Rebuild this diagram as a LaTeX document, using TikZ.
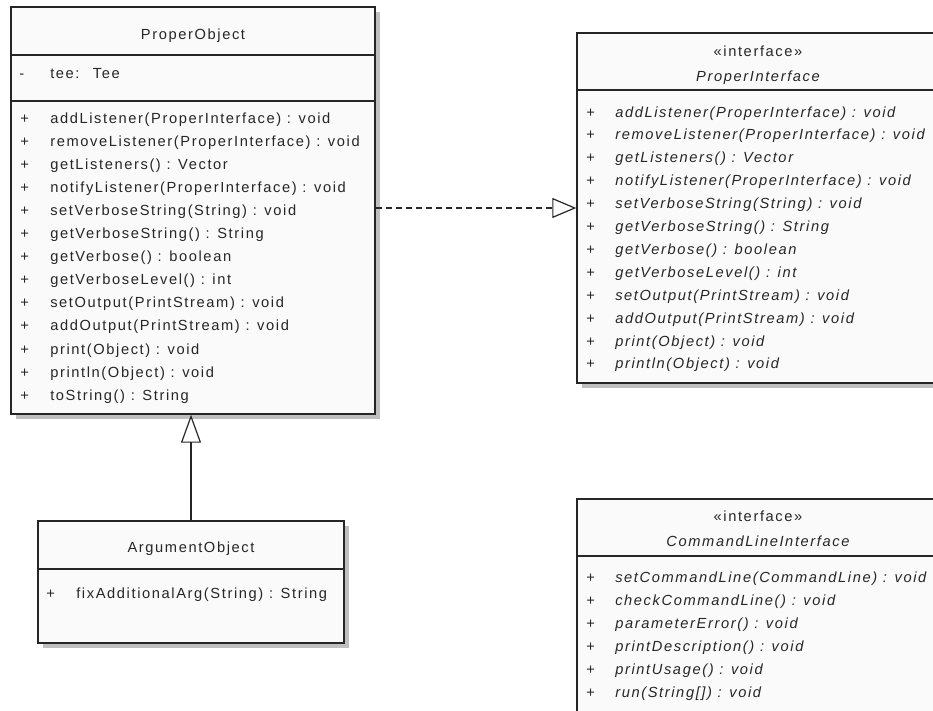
\documentclass[tikz,border=0pt]{standalone}
\usepackage{fontspec}
\setmainfont[LetterSpace=11]{Liberation Sans}
\usepackage{tikz}
\usetikzlibrary{fit,shadows,arrows.meta}
\tikzstyle{classbox} = [draw=black!85, line width=1.1pt, fill=black!2, inner sep=0pt, drop shadow={shadow xshift=3.5pt, shadow yshift=-3.5pt, fill=black!25, opacity=1}]
\tikzstyle{divider} = [draw=black!85, line width=0.9pt]
\tikzstyle{txt} = [inner sep=0pt, text=black!85, font={\fontsize{11}{13}\selectfont}]
\tikzstyle{member} = [txt, anchor=base west]
\tikzstyle{imember} = [member, font={\fontsize{11}{13}\selectfont\itshape}]
\tikzstyle{classname} = [txt, anchor=base]
\tikzstyle{inherit} = [draw=black!85, line width=0.9pt, -{Triangle[open, length=21pt, width=15pt]}]
\tikzstyle{realize} = [draw=black!85, line width=0.9pt, dash pattern=on 4.5pt off 3pt, -{Triangle[open, length=18pt, width=15pt]}]

\begin{document}
\begin{tikzpicture}[x=0.75pt, y=-0.75pt]
        \fill[white, use as bounding box] (0,0) rectangle (933,711);
        \clip (0,0) rectangle (933,711);
        % ProperObject
        \coordinate (po1) at (11,7);
        \coordinate (po2) at (375,414);
        \node[classbox, fit=(po1)(po2)] (properobject) {};
        \draw[divider] (11,55) -- (375,55);
        \draw[divider] (11,101) -- (375,101);
        \node[classname] (po-name) at (193,39) {ProperObject};
        \node[member] (po-vis) at (19,78) {-};
        \node[member] (po-tee) at (50,78) {tee: \ Tee};
        \foreach \m [count=\i from 0] in {addListener(ProperInterface) : void, removeListener(ProperInterface) : void, getListeners() : Vector, notifyListener(ProperInterface) : void, setVerboseString(String) : void, getVerboseString() : String, getVerbose() : boolean, getVerboseLevel() : int, setOutput(PrintStream) : void, addOutput(PrintStream) : void, print(Object) : void, println(Object) : void, toString() : String}
        {
          \node[member] (po-plus\i) at (20,123+23.1*\i) {+};
          \node[member] (po-op\i) at (50,123+23.1*\i) {\m};
        }
        % ProperInterface
        \coordinate (pi1) at (577,33);
        \coordinate (pi2) at (939,383);
        \node[classbox, fit=(pi1)(pi2)] (properinterface) {};
        \draw[divider] (577,90) -- (939,90);
        \node[classname] (pi-stereo) at (758,56) {«interface»};
        \node[classname, font={\fontsize{11}{13}\selectfont\itshape}] (pi-name) at (758,81) {ProperInterface};
        \foreach \m [count=\i from 0] in {addListener(ProperInterface) : void, removeListener(ProperInterface) : void, getListeners() : Vector, notifyListener(ProperInterface) : void, setVerboseString(String) : void, getVerboseString() : String, getVerbose() : boolean, getVerboseLevel() : int, setOutput(PrintStream) : void, addOutput(PrintStream) : void, print(Object) : void, println(Object) : void}
        {
          \node[member] (pi-plus\i) at (586,117+22.9*\i) {+};
          \node[imember] (pi-op\i) at (615,117+22.9*\i) {\m};
        }
        % ArgumentObject
        \coordinate (ao1) at (38,521);
        \coordinate (ao2) at (344,643);
        \node[classbox, fit=(ao1)(ao2)] (argumentobject) {};
        \draw[divider] (38,569) -- (344,569);
        \node[classname] (ao-name) at (191,552) {ArgumentObject};
        \node[member] (ao-plus) at (46,598) {+};
        \node[member] (ao-op) at (76,598) {fixAdditionalArg(String) : String};
        % CommandLineInterface
        \coordinate (ci1) at (577,499);
        \coordinate (ci2) at (940,730);
        \node[classbox, fit=(ci1)(ci2)] (commandlineinterface) {};
        \draw[divider] (577,556) -- (940,556);
        \node[classname] (ci-stereo) at (758,521) {«interface»};
        \node[classname, font={\fontsize{11}{13}\selectfont\itshape}] (ci-name) at (758,546) {CommandLineInterface};
        \foreach \m [count=\i from 0] in {setCommandLine(CommandLine) : void, checkCommandLine() : void, parameterError() : void, printDescription() : void, printUsage() : void, run(String[]) : void}
        {
          \node[member] (ci-plus\i) at (586,582+23*\i) {+};
          \node[imember] (ci-op\i) at (615,582+23*\i) {\m};
        }
        % relations
        \draw[inherit] (argumentobject.north) -- (argumentobject.north |- properobject.south);
        \draw[realize] (properobject.east |- properinterface.west) -- (properinterface.west);
\end{tikzpicture}
\end{document}
